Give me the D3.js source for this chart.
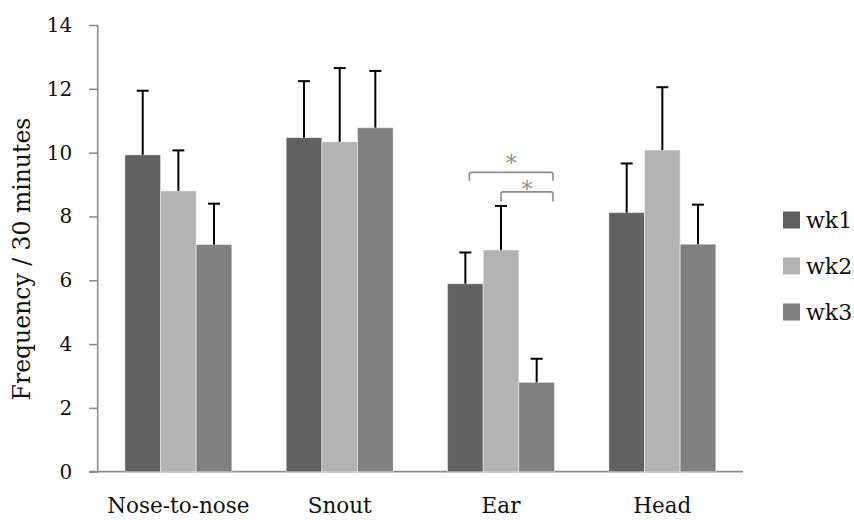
<!DOCTYPE html>
<html>
<head>
<meta charset="utf-8">
<script src="https://cdn.jsdelivr.net/npm/d3@7"></script>
<style>
  html, body { margin: 0; padding: 0; background: #fff; }
  svg { display: block; }
  text { font-family: "DejaVu Serif", "Liberation Serif", serif; }
</style>
</head>
<body>
<script>
const categories = ["Nose-to-nose", "Snout", "Ear", "Head"];
const seriesNames = ["wk1", "wk2", "wk3"];
const wk1 = [9.93, 10.47, 5.89, 8.12];
const wk2 = [8.80, 10.34, 6.95, 10.08];
const wk3 = [7.12, 10.78, 2.80, 7.13];
const wk1Err = [2.01, 1.77, 0.98, 1.54];
const wk2Err = [1.27, 2.31, 1.38, 1.97];
const wk3Err = [1.28, 1.78, 0.74, 1.24];
const yTicks = [0, 2, 4, 6, 8, 10, 12, 14];
const brackets = [
  { category: "Ear", from: "wk1", to: "wk3", level: 9.38, drop: 0.26, labelLevel: 9.82, label: "*" },
  { category: "Ear", from: "wk2", to: "wk3", level: 8.77, drop: 0.30, labelLevel: 8.99, label: "*" }
];
const colors = ["#616161", "#b3b3b3", "#808080"];

const W = 854, H = 520;
const m = { left: 97.7, right: 111, top: 25, bottom: 48.3 };
const iw = W - m.left - m.right, ih = H - m.top - m.bottom;

const svg = d3.select("body").append("svg").attr("width", W).attr("height", H);
const g = svg.append("g").attr("transform", `translate(${m.left},${m.top})`);

const values = [wk1, wk2, wk3];
const errs = [wk1Err, wk2Err, wk3Err];
const data = categories.map((c, i) => ({
  category: c,
  bars: seriesNames.map((s, j) => ({ series: s, value: values[j][i], err: errs[j][i] }))
}));

const x0 = d3.scaleBand().domain(categories).range([0, iw]).paddingInner(0.337).paddingOuter(0.1685);
const x1 = d3.scaleBand().domain(seriesNames).range([0, x0.bandwidth()]).padding(0);
const y = d3.scaleLinear().domain([0, 14]).range([ih, 0]);
const color = d3.scaleOrdinal().domain(seriesNames).range(colors);

// Y axis
const yAxis = g.append("g").call(d3.axisLeft(y).tickValues(yTicks).tickSize(8.5).tickPadding(17).tickFormat(d3.format("d")));
yAxis.select(".domain").attr("stroke", "#8c8c8c").attr("stroke-width", 1.6).attr("d", `M0,${ih}V0`);
yAxis.selectAll(".tick line").attr("stroke", "#8c8c8c").attr("stroke-width", 1.6);
yAxis.selectAll(".tick text").attr("font-size", 20).attr("font-family", "DejaVu Serif").style("fill", "#111");

// X axis
const xAxis = g.append("g").attr("transform", `translate(0,${ih})`)
  .call(d3.axisBottom(x0).tickSize(0).tickPadding(26));
xAxis.select(".domain").attr("stroke", "#8c8c8c").attr("stroke-width", 1.8).attr("d", `M-8.5,0H${iw}`);
xAxis.selectAll(".tick text").attr("font-size", 21.5).attr("font-family", "DejaVu Serif").style("fill", "#111");

// Bars
const groups = g.selectAll(".grp").data(data).join("g")
  .attr("class", "grp")
  .attr("transform", d => `translate(${x0(d.category)},0)`);

groups.selectAll("rect").data(d => d.bars).join("rect")
  .attr("x", d => x1(d.series))
  .attr("y", d => y(d.value))
  .attr("width", x1.bandwidth())
  .attr("height", d => ih - y(d.value))
  .attr("fill", d => color(d.series))
  .attr("stroke", "rgba(255,255,255,0.45)")
  .attr("stroke-width", 1);

// Error bars
const capW = 12;
const eb = groups.selectAll(".eb").data(d => d.bars).join("g").attr("class", "eb");
eb.append("line")
  .attr("x1", d => x1(d.series) + x1.bandwidth() / 2)
  .attr("x2", d => x1(d.series) + x1.bandwidth() / 2)
  .attr("y1", d => y(d.value))
  .attr("y2", d => y(d.value + d.err))
  .attr("stroke", "#000").attr("stroke-width", 2);
eb.append("line")
  .attr("x1", d => x1(d.series) + x1.bandwidth() / 2 - capW / 2)
  .attr("x2", d => x1(d.series) + x1.bandwidth() / 2 + capW / 2)
  .attr("y1", d => y(d.value + d.err))
  .attr("y2", d => y(d.value + d.err))
  .attr("stroke", "#000").attr("stroke-width", 2);

// Significance brackets
brackets.forEach((b, i) => {
  const left = x0(b.category) + x1(b.from) + x1.bandwidth() / 2 + (i === 0 ? 4 : 0);
  const right = x0(b.category) + x1(b.to) + x1.bandwidth() - 1.5;
  const yt = y(b.level), yb = y(b.level - b.drop);
  g.append("path")
    .attr("d", `M${left},${yb}V${yt + 2}Q${left},${yt} ${left + 2},${yt}H${right - 2}Q${right},${yt} ${right},${yt + 2}V${yb}`)
    .attr("fill", "none").attr("stroke", "#8c8c8c").attr("stroke-width", 1.6);
  g.append("text")
    .attr("x", (left + right) / 2)
    .attr("y", y(b.labelLevel) + 12.5)
    .attr("text-anchor", "middle")
    .attr("font-size", 22)
    .style("fill", "#8c8c8c")
    .text(b.label);
});

// Y axis title
svg.append("text")
  .attr("transform", `translate(30,259) rotate(-90)`)
  .attr("text-anchor", "middle")
  .attr("font-size", 23.5)
  .style("fill", "#111")
  .text("Frequency / 30 minutes");

// Legend
const legend = svg.append("g").attr("transform", "translate(783,0)");
seriesNames.forEach((s, i) => {
  const cy = 220 + i * 46;
  legend.append("rect").attr("x", 0).attr("y", cy - 8.5).attr("width", 17).attr("height", 17).attr("fill", color(s));
  legend.append("text").attr("x", 23).attr("y", cy + 7.5).attr("font-size", 22).style("fill", "#111").text(s);
});
</script>
</body>
</html>
